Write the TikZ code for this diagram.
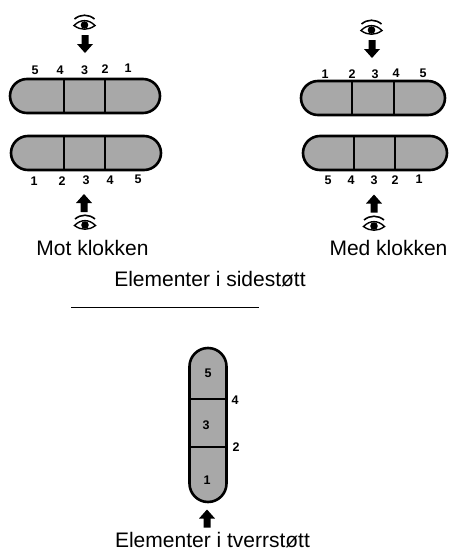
\documentclass[tikz,border=0pt]{standalone}
\usepackage{fontspec}
\setmainfont{Liberation Sans}
\usetikzlibrary{shapes.misc}
\definecolor{halftone}{gray}{0.66}
\tikzset{
  pill/.style={rounded rectangle,draw,line width=2.6pt,fill=halftone,inner sep=0pt,minimum width=150pt,minimum height=34pt},
  standing/.style={pill,rotate=90,minimum width=154pt,minimum height=37pt},
  divider/.style={line width=2pt},
  digit/.style={font=\bfseries\fontsize{12.5}{12.5}\selectfont,inner sep=0pt},
  caption/.style={font=\fontsize{21}{23}\selectfont,inner sep=0pt},
  uparrow/.pic={
    \fill (0,-9) -- (8,0) -- (3.5,0) -- (3.5,9) -- (-3.5,9) -- (-3.5,0) -- (-8,0) -- cycle;
  },
  downarrow/.pic={
    \fill (0,9) -- (8,0) -- (3.5,0) -- (3.5,-9) -- (-3.5,-9) -- (-3.5,0) -- (-8,0) -- cycle;
  },
  eyeball/.pic={
    \draw[line width=1.6pt] (-10,-5) .. controls (-4,-10) and (4,-10) .. (10,-5);
    \draw[line width=1.4pt,fill=white] (-10.5,1.5) .. controls (-4,-5) and (4,-5) .. (10.5,1.5) .. controls (4,6.5) and (-4,6.5) .. (-10.5,1.5) -- cycle;
    \fill (0,1) circle (3.8pt);
  }
}
\begin{document}
\begin{tikzpicture}[x=1pt,y=-1pt]
  \useasboundingbox (0,0) rectangle (451,552);
  % side supported, left
  \node[pill] (p_1) at (85,96) {};
  \node[pill] (p_2) at (86,153) {};
  \draw[divider] (63.5,79) -- (63.5,113) (104.5,79) -- (104.5,113);
  \draw[divider] (64,136) -- (64,170) (105,136) -- (105,170);
  % side supported, right
  \node[pill,minimum width=144pt] (p_3) at (373,98) {};
  \node[pill,minimum width=144pt] (p_4) at (375,153) {};
  \draw[divider] (352,81) -- (352,115) (394,81) -- (394,115);
  \draw[divider] (353.5,136) -- (353.5,170) (395,136) -- (395,170);
  % cross supported
  \node[standing] (p_5) at (208,425) {};
  \draw[divider] (190,399) -- (226,399) (190,447) -- (226,447);

  \foreach \nx/\ny/\txt [count=\i] in {35/70/5,60/70/4,84.5/70/3,105/69/2,128/68/1,
      34/181/1,62/181/2,86/180/3,110/180/4,138/179/5,
      325/74/1,352/74/2,375/74/3,396/73/4,423/73/5,
      328/180/5,351/180/4,374/180/3,395/180/2,419/179/1,
      208/373/5,206/425/3,207/480/1,235/400/4,236/447/2}
    \node[digit] (d_\i) at (\nx,\ny) {\txt};

  \pic (a_1) at (85,44) {downarrow};
  \pic (a_2) at (372,49) {downarrow};
  \pic (a_3) at (84,203) {uparrow};
  \pic (a_4) at (374,203.5) {uparrow};
  \pic (a_5) at (207,518.5) {uparrow};

  \pic (e_1) at (84.5,24) {eyeball};
  \pic (e_2) at (371.5,29) {eyeball};
  \pic (e_3) at (85,224) {eyeball};
  \pic (e_4) at (374,225) {eyeball};

  \node[caption] (mot) at (92.5,248) {Mot klokken};
  \node[caption] (med) at (388.5,248) {Med klokken};
  \node[caption] (side) at (210,279) {Elementer i sidestøtt};
  \node[caption] (tverr) at (212.5,540) {Elementer i tverrstøtt};
  \draw[line width=0.8pt] (71,307) -- (259,307);
\end{tikzpicture}
\end{document}
